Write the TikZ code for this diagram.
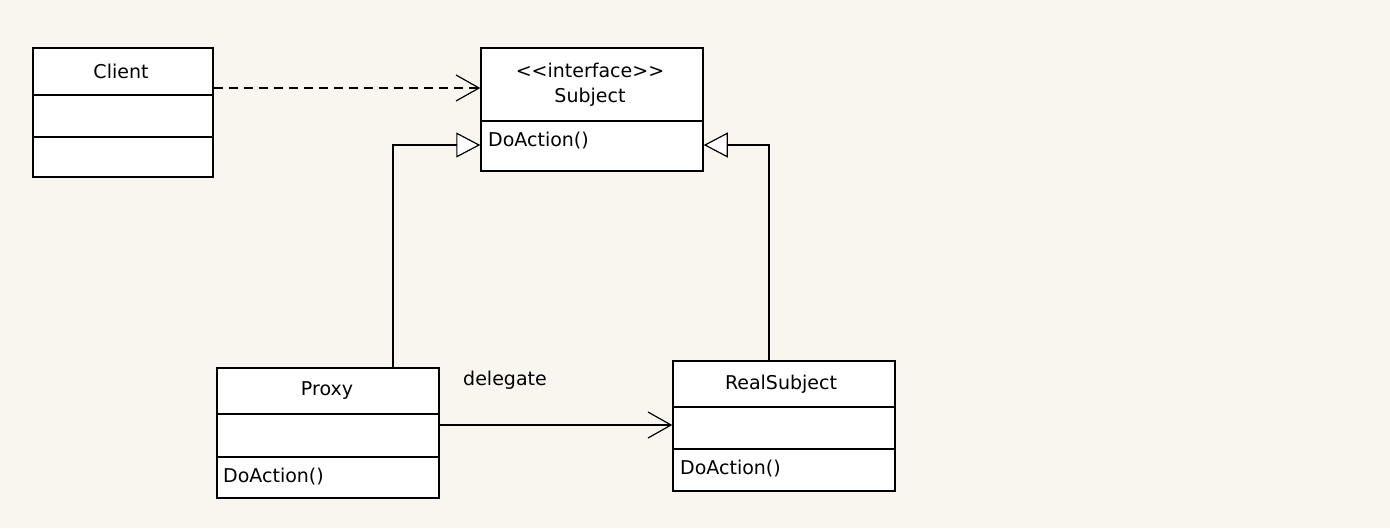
\documentclass[tikz,border=0pt]{standalone}
\usepackage{fontspec}
\setmainfont{DejaVu Sans}
\usetikzlibrary{arrows.meta,calc}
\definecolor{bgc}{HTML}{F9F6F0}
\begin{document}
\begin{tikzpicture}[x=1pt,y=-1pt,
  classbox/.style={draw=black,line width=1.5pt,fill=white,rectangle,inner sep=0pt},
  divider/.style={draw=black,line width=1.5pt},
  lbl/.style={inner sep=0pt,font=\fontsize{19}{21}\selectfont},
  dep/.style={line width=1.5pt,dash pattern=on 9pt off 6pt,-{Straight Barb[length=23pt,width=26pt,line width=1.2pt]}},
  gen/.style={line width=1.5pt,-{Triangle[open,length=24pt,width=25pt,fill=white,line width=1.2pt]}},
  assoc/.style={line width=1.5pt,-{Straight Barb[length=23pt,width=26pt,line width=1.2pt]}}]
\fill[bgc] (0,0) rectangle (1390,528);
\useasboundingbox (0,0) rectangle (1390,528);
% class boxes
\node[classbox,minimum width=180pt,minimum height=129pt] (client) at (123,112.5) {};
\node[classbox,minimum width=222pt,minimum height=123pt] (subject) at (592,109.5) {};
\node[classbox,minimum width=222pt,minimum height=130pt] (proxy) at (328,433) {};
\node[classbox,minimum width=222pt,minimum height=130pt] (real) at (784,426) {};
% dividers
\draw[divider] (client.west |- 0,95) -- (client.east |- 0,95);
\draw[divider] (client.west |- 0,137) -- (client.east |- 0,137);
\draw[divider] (subject.west |- 0,121) -- (subject.east |- 0,121);
\draw[divider] (proxy.west |- 0,414) -- (proxy.east |- 0,414);
\draw[divider] (proxy.west |- 0,457) -- (proxy.east |- 0,457);
\draw[divider] (real.west |- 0,407) -- (real.east |- 0,407);
\draw[divider] (real.west |- 0,449) -- (real.east |- 0,449);
% texts
\node[lbl] (clientname) at (121,71) {Client};
\node[lbl] (stereo) at (590,70) {<\kern0pt<interface>\kern0pt>};
\node[lbl] (subjname) at (590,97) {Subject};
\node[lbl,anchor=west] (subjop) at (488,141) {DoAction()};
\node[lbl] (proxyname) at (327,391) {Proxy};
\node[lbl,anchor=west] (proxyop) at (223,477) {DoAction()};
\node[lbl] (realname) at (781,384) {RealSubject};
\node[lbl,anchor=west] (realop) at (680,469) {DoAction()};
\node[lbl] (delegate) at (505,380) {delegate};
% connectors
\draw[dep] (client.east |- 0,88) -- (subject.west |- 0,88);
\draw[gen] (proxy.north -| 393,0) |- (subject.west |- 0,145);
\draw[gen] (real.north -| 769,0) |- (subject.east |- 0,145);
\draw[assoc] (proxy.east |- 0,425) -- (real.west |- 0,425);
\end{tikzpicture}
\end{document}
